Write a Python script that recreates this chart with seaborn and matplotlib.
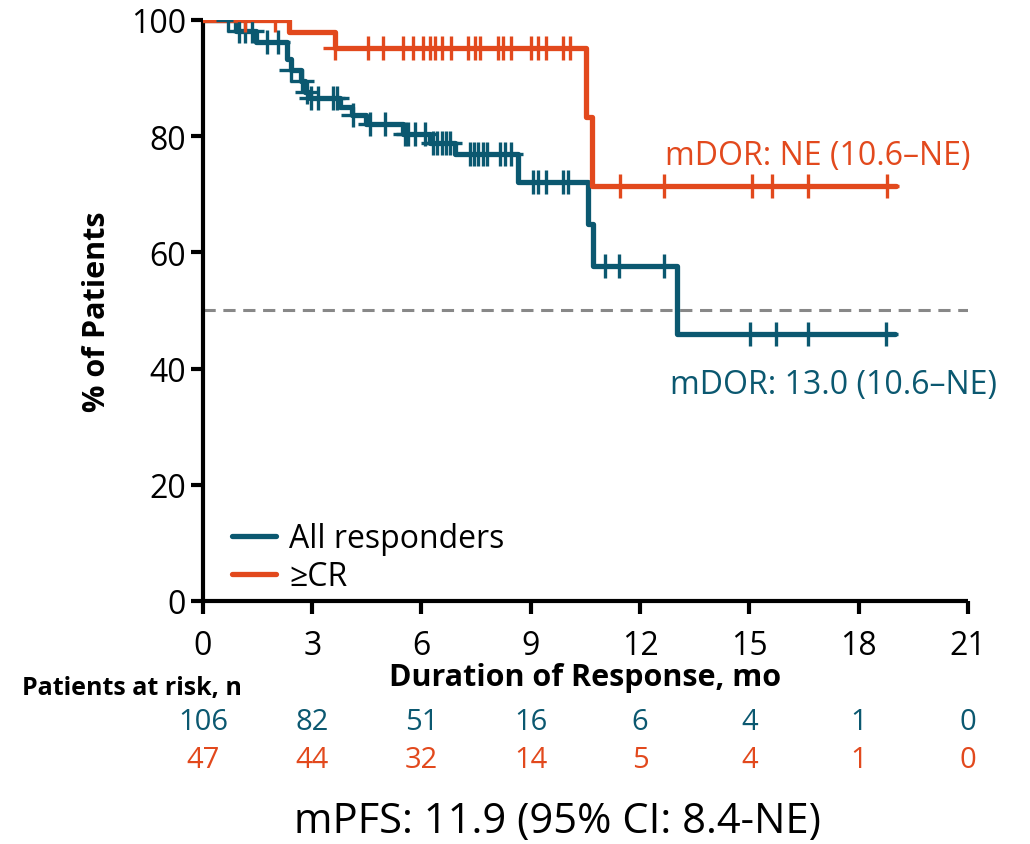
import numpy as np
import pandas as pd
import matplotlib
matplotlib.use("Agg")
import matplotlib.pyplot as plt
import seaborn as sns

# step curves (time in months, % still in response)
all_times = [0, 0.92, 1.45, 2.30, 2.42, 2.70, 2.80, 2.95, 3.76, 4.08, 4.49, 5.49,
             6.23, 6.92, 8.65, 10.58, 10.71, 13.02, 19.0]
all_surv = [100, 98.1, 96.2, 93.3, 91.4, 89.5, 87.6, 86.6, 85.0, 83.6, 82.1, 80.4,
            78.8, 76.9, 72.1, 64.8, 57.7, 46.0, 46.0]
all_cens = [0.70, 1.00, 1.15, 1.34, 1.75, 2.07, 2.43, 2.71, 2.85, 2.98, 3.17, 3.58,
            3.67, 4.12, 4.58, 5.00, 5.54, 5.64, 5.82, 6.09, 6.32, 6.43, 6.55, 6.66,
            6.78, 7.33, 7.44, 7.56, 7.69, 7.79, 8.15, 8.29, 8.47, 9.07, 9.20, 9.43,
            9.89, 10.03, 11.03, 11.43, 12.66, 15.03, 15.73, 16.62, 18.75]

cr_times = [0, 2.36, 3.62, 10.53, 10.67, 19.04]
cr_surv = [100, 97.9, 95.2, 83.3, 71.5, 71.5]
cr_cens = [1.15, 1.98, 3.62, 4.54, 4.95, 5.50, 5.77, 6.05, 6.23, 6.37, 6.55, 6.82,
           7.28, 7.46, 7.60, 8.10, 8.24, 8.47, 9.02, 9.20, 9.43, 9.89, 10.07,
           11.45, 12.65, 15.06, 15.62, 16.61, 18.77]

risk_months = [0, 3, 6, 9, 12, 15, 18, 21]
risk_all = [106, 82, 51, 16, 6, 4, 1, 0]
risk_cr = [47, 44, 32, 14, 5, 4, 1, 0]

TEAL = "#0b5870"
ORANGE = "#e2491d"

sns.set_theme(style="ticks")
plt.rcParams['font.family'] = ['Open Sans', 'DejaVu Sans']
plt.rcParams['text.color'] = 'black'
plt.rcParams['axes.labelcolor'] = 'black'

df = pd.concat([
    pd.DataFrame({"time": all_times, "surv": all_surv, "group": "All responders"}),
    pd.DataFrame({"time": cr_times, "surv": cr_surv, "group": "≥CR"}),
])

fig = plt.figure(figsize=(10.3, 8.45), dpi=100)
ax = fig.add_axes([0.197, 0.2876, 0.7427, 0.6876])

ax.axhline(50, color="#888888", lw=2.2, ls=(0, (4, 2.5)), zorder=1)

sns.lineplot(data=df, x="time", y="surv", hue="group", estimator=None, sort=False,
             palette={"All responders": TEAL, "≥CR": ORANGE},
             drawstyle="steps-post", lw=3.8, ax=ax, zorder=3)


def at(times, surv, c):
    idx = np.searchsorted(times, c, side="right") - 1
    return np.asarray(surv)[idx]


ax.plot(all_cens, at(all_times, all_surv, all_cens), ls="none", marker="+",
        ms=17, mew=2.4, color=TEAL, zorder=3)
ax.plot(cr_cens, at(cr_times, cr_surv, cr_cens), ls="none", marker="+",
        ms=17, mew=2.4, color=ORANGE, zorder=4)

ax.set_xlim(0, 21)
ax.set_ylim(0, 100)
ax.set_xticks(risk_months)
ax.set_yticks([0, 20, 40, 60, 80, 100])
sns.despine(ax=ax)
for s in ["left", "bottom"]:
    ax.spines[s].set_linewidth(3)
    ax.spines[s].set_color("black")
    ax.spines[s].set_capstyle("butt")
ax.tick_params(axis="both", length=9, width=3, color="black", labelcolor="black")
ax.tick_params(axis="y", labelsize=23, pad=3)
ax.tick_params(axis="x", labelsize=23, pad=11)

ax.set_xlabel("Duration of Response, mo", fontsize=22, fontweight="bold", labelpad=0)
ax.set_ylabel("% of Patients", fontsize=22, fontweight="bold", labelpad=14)

ax.text(12.68, 76.6, "mDOR: NE (10.6–NE)", color=ORANGE, fontsize=23,
        ha="left", va="center")
ax.text(12.82, 37.3, "mDOR: 13.0 (10.6–NE)", color=TEAL, fontsize=23,
        ha="left", va="center", clip_on=False)

leg = ax.legend(loc="lower left", bbox_to_anchor=(0.0, -0.036), frameon=False,
                fontsize=23, handlelength=1.4, handletextpad=0.4,
                labelspacing=0.15)
for h in leg.get_lines():
    h.set_linewidth(3.8)

fig.text(22 / 1030, 1 - 688 / 845, "Patients at risk, n", fontsize=18,
         fontweight="bold", ha="left", va="center")
trans = matplotlib.transforms.blended_transform_factory(ax.transData, fig.transFigure)
for m, a, c in zip(risk_months, risk_all, risk_cr):
    ax.text(m, 1 - 723 / 845, str(a), color=TEAL, fontsize=21, ha="center",
            va="center", transform=trans, clip_on=False)
    ax.text(m, 1 - 761 / 845, str(c), color=ORANGE, fontsize=21, ha="center",
            va="center", transform=trans, clip_on=False)

fig.text(557 / 1030, 1 - 822 / 845, "mPFS: 11.9 (95% CI: 8.4-NE)", fontsize=30,
         ha="center", va="center")

fig.savefig("out.png", dpi=100, facecolor="white")
